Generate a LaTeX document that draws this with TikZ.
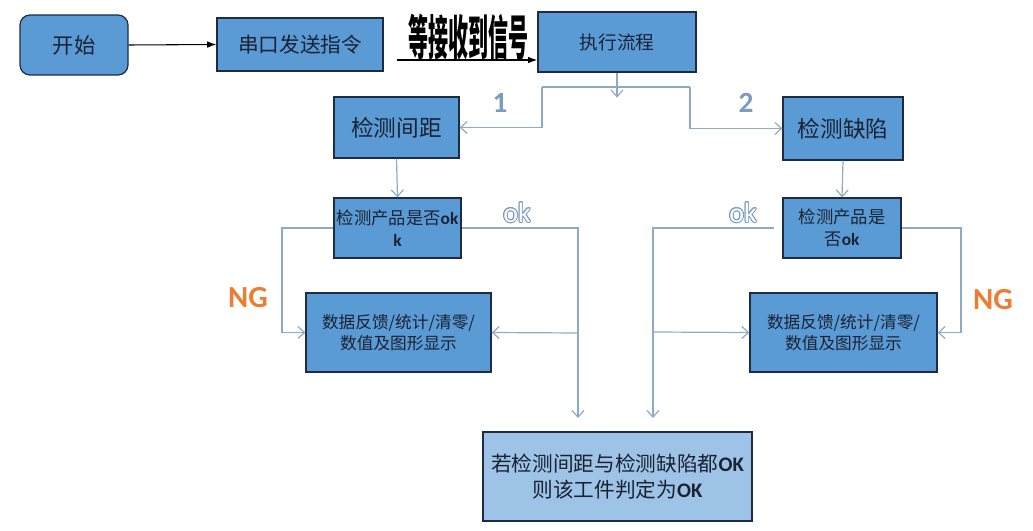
\documentclass[tikz,border=0pt]{standalone}
\usepackage{fontspec}
\setmainfont{Carlito}
\newfontfamily\cjk{Noto Sans CJK SC}
\usepackage{contour}
\contourlength{0.7pt}
\usetikzlibrary{arrows.meta}
\definecolor{boxblue}{HTML}{5B9BD5}
\definecolor{lightbox}{HTML}{9DC3E6}
\definecolor{edgec}{HTML}{1F2A44}
\definecolor{connc}{HTML}{8FAAC4}
\definecolor{lblc}{HTML}{7B9CC0}
\definecolor{ngc}{HTML}{ED7D31}
\definecolor{txtc}{HTML}{1A2233}
\tikzset{
  box/.style={draw=edgec, fill=boxblue, line width=0.9pt, inner sep=0pt, align=center, text=txtc},
  conn/.style={draw=connc, line width=0.9pt},
  carr/.style={conn, -{Straight Barb[length=5pt,width=9pt]}},
  numlbl/.style={text=lblc, font=\bfseries\fontsize{22}{24}\selectfont},
  ngl/.style={text=ngc, font=\bfseries\fontsize{23}{25}\selectfont},
  oklbl/.style={font=\fontsize{21}{23}\selectfont},
}
\begin{document}
\begin{tikzpicture}[x=0.75pt, y=-0.75pt]
\useasboundingbox (0,0) rectangle (1033,531);
% nodes
\node[box, rounded corners=7.5pt, minimum width=108*0.75pt, minimum height=60*0.75pt, font=\cjk\fontsize{16}{18}\selectfont] (start) at (74,45) {开始};
\node[box, minimum width=166*0.75pt, minimum height=53*0.75pt, font=\cjk\fontsize{15.5}{18}\selectfont] (send) at (300,44.5) {串口发送指令};
\node[box, minimum width=158*0.75pt, minimum height=60*0.75pt, font=\cjk\fontsize{14}{16}\selectfont] (exec) at (617,42) {执行流程};
\node[box, minimum width=125*0.75pt, minimum height=61*0.75pt, font=\cjk\fontsize{17}{19}\selectfont] (gap) at (396.5,127.5) {检测间距};
\node[box, minimum width=120*0.75pt, minimum height=63*0.75pt, font=\cjk\fontsize{17}{19}\selectfont] (defect) at (843,128.5) {检测缺陷};
\node[box, minimum width=127*0.75pt, minimum height=60*0.75pt, font=\cjk\fontsize{13}{17}\selectfont] (chkL) at (397.5,228) {检测产品是否\textbf{\fontspec{Carlito}ok}\\\textbf{\fontspec{Carlito}k}};
\node[box, minimum width=118*0.75pt, minimum height=60*0.75pt, font=\cjk\fontsize{13}{17}\selectfont] (chkR) at (842,228) {检测产品是\\否\textbf{\fontspec{Carlito}ok}};
\node[box, minimum width=185*0.75pt, minimum height=79*0.75pt, font=\cjk\fontsize{12.5}{16}\selectfont] (dataL) at (398.5,332.5) {数据反馈/统计/清零/\\数值及图形显示};
\node[box, minimum width=187*0.75pt, minimum height=79*0.75pt, font=\cjk\fontsize{12.5}{16}\selectfont] (dataR) at (843.5,332.5) {数据反馈/统计/清零/\\数值及图形显示};
\node[box, fill=lightbox, minimum width=269*0.75pt, minimum height=89*0.75pt, font=\cjk\fontsize{15.5}{19}\selectfont] (final) at (617.5,476.5) {若检测间距与检测缺陷都{\fontspec{Carlito}\bfseries OK}\\则该工件判定为{\fontspec{Carlito}\bfseries OK}};
% wait label
\node[font=\cjk\bfseries\fontsize{30}{32}\selectfont, xscale=0.5, yscale=1.2, inner sep=0pt, anchor=base] (wait) at (468,56) {等接收到信号};
% labels
\node[numlbl] (l1) at (500,103) {1};
\node[numlbl] (l2) at (746,103) {2};
\node[ngl] (ngLl) at (248,298) {NG};
\node[ngl] (ngRl) at (993,300) {NG};
\node[oklbl] (okLl) at (517,213) {\contour{lblc}{\textcolor{white}{ok}}};
\node[oklbl] (okRl) at (743,213) {\contour{lblc}{\textcolor{white}{ok}}};
% coordinates
\coordinate (w1) at (397,60);
\coordinate (bl) at (542,87);
\coordinate (br) at (690,87);
\coordinate (okL) at (578,418);
\coordinate (jL) at (578,333);
\coordinate (ngL) at (282,228);
\coordinate (okRs) at (774,228);
\coordinate (okR) at (653,418);
\coordinate (jR) at (653,332);
\coordinate (ngR) at (961,228);
% connectors
\draw[line width=0.8pt, -{Latex[length=7pt,width=5pt]}] (start.east) -- (send.west);
\draw[line width=1pt, -{Latex[length=7pt,width=5pt]}] (w1) -- (w1 -| exec.west);
\draw[carr] (exec.south) -- ++(0,25);
\draw[conn] (bl) -- (br);
\draw[carr] (bl) |- (gap.east);
\draw[carr] (br) |- (defect.west);
\draw[carr] (gap.south) -- (chkL.north);
\draw[carr] (defect.south) -- (chkR.north);
\draw[carr] (chkL.east) -| (okL);
\draw[carr] (jL) -- (dataL.east);
\draw[carr] (chkL.west) -- (ngL) |- (dataL.west);
\draw[carr] (okRs) -| (okR);
\draw[carr] (jR) -- (dataR.west);
\draw[carr] (chkR.east) -- (ngR) |- (dataR.east);
\end{tikzpicture}
\end{document}
